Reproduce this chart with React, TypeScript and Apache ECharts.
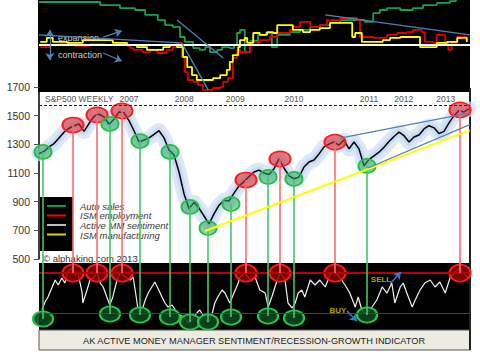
import React, { useEffect, useRef } from "react";
import * as echarts from "echarts";

const FONT = '"Liberation Sans", Arial, sans-serif';
const X_MIN = 2006.4;
const X_MAX = 2013.583;

// S&P 500 weekly, starting 2006.4
const spxStart = 2006.4;
const spxMonthly = [
  1235, 1250, 1282, 1305, 1345, 1385, 1412, 1430, 1442, 1390,
  1445, 1495, 1510, 1491, 1440, 1475, 1526, 1520, 1465, 1395,
  1316, 1330, 1345, 1370, 1395, 1345, 1260, 1225, 1107, 955,
  850, 895, 855, 800, 745, 815, 875, 910, 905, 960,
  1010, 1040, 1075, 1107, 1120, 1100, 1090, 1130, 1198, 1135,
  1080, 1060, 1072, 1142, 1177, 1191, 1233, 1282, 1302, 1316,
  1295, 1330, 1268, 1316, 1268, 1150, 1195, 1220, 1245, 1280,
  1320, 1355, 1385, 1360, 1316, 1351, 1365, 1407, 1430, 1415,
  1375, 1390, 1450, 1500, 1535, 1526, 1547,
];

// Top panel indicators [decimal year, index]
const autoSales: [number, number][] = [
  [2006.40, 68.3], [2007.42, 67.0], [2007.58, 67.0], [2007.75, 65.7], [2008.00, 64.9], [2008.17, 62.8],
  [2008.38, 60.6], [2008.50, 58.5], [2008.63, 57.7], [2008.75, 53.4], [2008.83, 51.3], [2008.97, 48.7],
  [2009.08, 47.9], [2009.17, 49.1], [2009.25, 47.0], [2009.37, 47.9], [2009.45, 49.1], [2009.58, 48.7],
  [2009.65, 50.0], [2009.70, 55.1], [2009.75, 56.4], [2009.83, 47.0], [2009.92, 51.7], [2010.05, 54.3],
  [2010.18, 55.1], [2010.28, 49.1], [2010.37, 54.3], [2010.58, 55.5], [2010.75, 56.4], [2010.92, 57.7],
  [2011.08, 58.5], [2011.25, 59.4], [2011.42, 60.6], [2011.67, 60.6], [2011.83, 59.8], [2011.97, 63.6],
  [2012.08, 64.9], [2012.20, 65.7], [2012.42, 64.9], [2012.63, 65.7], [2012.80, 67.0], [2013.03, 67.9],
  [2013.25, 68.7], [2013.35, 70.4],
];
const ismEmployment: [number, number][] = [
  [2006.42, 49.1], [2006.58, 50.0], [2006.75, 50.4], [2007.00, 49.6], [2007.25, 50.4], [2007.50, 50.0],
  [2007.72, 50.4], [2007.87, 49.6], [2007.92, 48.7], [2007.97, 47.9], [2008.13, 47.0], [2008.25, 47.9],
  [2008.37, 46.6], [2008.53, 47.9], [2008.63, 49.1], [2008.70, 50.9], [2008.78, 44.9], [2008.83, 38.5],
  [2008.88, 35.1], [2008.97, 34.3], [2009.05, 33.0], [2009.13, 30.9], [2009.30, 31.7], [2009.42, 32.1],
  [2009.47, 34.3], [2009.55, 35.9], [2009.63, 44.5], [2009.70, 47.9], [2009.75, 47.0], [2009.87, 47.0],
  [2009.92, 51.3], [2010.03, 50.9], [2010.08, 52.1], [2010.25, 53.4], [2010.37, 55.1], [2010.58, 56.4],
  [2010.63, 57.7], [2010.75, 59.8], [2010.87, 59.8], [2010.92, 57.7], [2011.08, 58.5], [2011.20, 60.6],
  [2011.42, 61.5], [2011.70, 60.6], [2011.75, 53.4], [2011.97, 53.0], [2012.13, 53.0], [2012.20, 54.3],
  [2012.37, 55.1], [2012.53, 55.5], [2012.63, 56.4], [2012.78, 55.5], [2012.83, 51.3], [2012.97, 50.9],
  [2013.03, 54.3], [2013.13, 54.3], [2013.17, 50.9], [2013.22, 47.9], [2013.28, 50.9], [2013.37, 53.4],
  [2013.47, 53.4], [2013.53, 52.1],
];
const ismManufacturing: [number, number][] = [
  [2006.42, 51.3], [2006.53, 53.0], [2006.63, 51.3], [2006.87, 50.9], [2007.13, 52.1], [2007.30, 52.1],
  [2007.53, 52.1], [2007.63, 50.9], [2007.87, 50.0], [2008.03, 49.1], [2008.20, 47.9], [2008.37, 47.9],
  [2008.47, 49.1], [2008.58, 50.0], [2008.70, 49.1], [2008.80, 44.9], [2008.87, 40.6], [2008.95, 37.2],
  [2009.03, 35.1], [2009.13, 35.1], [2009.30, 35.9], [2009.42, 37.2], [2009.53, 39.4], [2009.58, 42.8],
  [2009.63, 45.7], [2009.72, 49.1], [2009.75, 52.1], [2009.83, 53.0], [2009.87, 50.9], [2009.97, 55.1],
  [2010.08, 54.3], [2010.20, 55.5], [2010.30, 55.1], [2010.37, 58.5], [2010.58, 58.5], [2010.63, 56.4],
  [2010.80, 55.5], [2010.92, 56.4], [2011.08, 57.2], [2011.25, 59.4], [2011.58, 59.4], [2011.62, 53.4],
  [2011.67, 55.1], [2011.75, 55.1], [2011.78, 51.3], [2011.97, 51.3], [2012.13, 52.1], [2012.25, 53.0],
  [2012.42, 53.4], [2012.72, 53.4], [2012.75, 49.1], [2012.97, 49.1], [2013.03, 50.9], [2013.20, 51.3],
  [2013.37, 53.0], [2013.53, 51.3],
];
const topNeutral = 50;

// Active MM sentiment oscillator [decimal year, value]
const sentiment: [number, number][] = [
  [2006.45, 29.9], [2006.50, 41.8], [2006.55, 49.3], [2006.62, 64.2], [2006.67, 74.6], [2006.72, 67.2],
  [2006.78, 77.6], [2006.83, 70.1], [2006.88, 86.6], [2006.95, 92.5], [2007.00, 82.1], [2007.05, 85.1],
  [2007.12, 55.2], [2007.13, 40.3], [2007.20, 59.7], [2007.25, 74.6], [2007.30, 77.6], [2007.37, 85.1],
  [2007.42, 70.1], [2007.47, 64.2], [2007.53, 49.3], [2007.58, 37.3], [2007.63, 49.3], [2007.70, 74.6],
  [2007.75, 85.1], [2007.80, 82.1], [2007.87, 77.6], [2007.92, 74.6], [2007.97, 79.1], [2008.02, 49.3],
  [2008.05, 29.9], [2008.12, 29.9], [2008.17, 44.8], [2008.22, 55.2], [2008.28, 64.2], [2008.33, 71.6],
  [2008.38, 62.7], [2008.45, 49.3], [2008.50, 40.3], [2008.55, 34.3], [2008.62, 37.3], [2008.67, 29.9],
  [2008.75, 22.4], [2008.83, 17.9], [2008.88, 10.4], [2008.95, 14.9], [2009.03, 25.4], [2009.08, 29.9],
  [2009.13, 22.4], [2009.22, 10.4], [2009.28, 22.4], [2009.33, 40.3], [2009.38, 49.3], [2009.45, 59.7],
  [2009.50, 55.2], [2009.58, 40.3], [2009.67, 59.7], [2009.72, 70.1], [2009.75, 79.1], [2009.83, 85.1],
  [2009.92, 74.6], [2010.00, 79.1], [2010.08, 59.7], [2010.17, 55.2], [2010.22, 34.3], [2010.28, 49.3],
  [2010.37, 74.6], [2010.42, 85.1], [2010.50, 74.6], [2010.55, 40.3], [2010.62, 32.8], [2010.67, 40.3],
  [2010.72, 55.2], [2010.78, 59.7], [2010.83, 49.3], [2010.92, 74.6], [2011.00, 67.2], [2011.08, 74.6],
  [2011.17, 64.2], [2011.25, 82.1], [2011.33, 86.6], [2011.42, 77.6], [2011.50, 67.2], [2011.58, 55.2],
  [2011.67, 34.3], [2011.72, 49.3], [2011.78, 29.9], [2011.83, 25.4], [2011.88, 26.9], [2011.95, 34.3],
  [2012.03, 44.8], [2012.12, 64.2], [2012.20, 55.2], [2012.28, 70.1], [2012.33, 40.3], [2012.42, 64.2],
  [2012.47, 70.1], [2012.53, 55.2], [2012.62, 34.3], [2012.67, 44.8], [2012.75, 59.7], [2012.83, 70.1],
  [2012.92, 74.6], [2013.00, 64.2], [2013.08, 71.6], [2013.17, 55.2], [2013.25, 77.6], [2013.33, 86.6],
  [2013.42, 92.5], [2013.50, 82.1], [2013.55, 77.6],
];
const sellLevel = 85;
const buyLevel = 25;

// Signal events
const redDates = [2006.967, 2007.367, 2007.783, 2009.85, 2010.417, 2011.333, 2013.417];
const redSpx = [1435, 1505, 1533, 1051, 1198, 1316, 1540];
const redOsc = [85, 85, 85, 85, 85, 85, 85];
const greenDates = [2006.467, 2007.583, 2008.083, 2008.583, 2008.917, 2009.217, 2009.6, 2010.217, 2010.65, 2011.867];
const greenSpx = [1247, 1442, 1323, 1247, 863, 716, 884, 1072, 1058, 1149];
const greenOsc = [16.4, 23.9, 22.4, 19.4, 11.9, 11.9, 19.4, 20.9, 17.9, 22.4];

// Year / header labels on the S&P panel
const headerLabels = ["S&P500 WEEKLY", "2007", "2008", "2009", "2010", "2011", "2012", "2013"];
const headerDates = [2007.07, 2007.9, 2008.82, 2009.67, 2010.65, 2011.9, 2012.48, 2013.18];
const headerLevel = 1617;
const topLevelLine = 1575;

// Trend lines
const supportLine: [number, number][] = [[2009.167, 695], [2013.58, 1397]];
const wedgeUpper: [number, number][] = [[2011.417, 1344], [2013.583, 1519]];
const wedgeLower: [number, number][] = [[2011.883, 1135], [2013.58, 1438]];
const topTrends: [number, number][][] = [
  [[2006.4, 54.3], [2008.75, 50.9]],
  [[2008.70, 60.6], [2009.47, 44.5]],
  [[2008.78, 50.9], [2009.22, 30.9]],
  [[2011.17, 62.8], [2013.58, 54.3]],
];
const topArrows: [number, number][][] = [
  [[2007.47, 53.4], [2007.78, 56.0]],
  [[2007.47, 46.6], [2007.78, 43.2]],
];
const topDoubleArrow: [number, number][] = [[2006.58, 56.4], [2006.58, 43.6]];
const signalArrows: [number, number][][] = [
  [[2012.25, 68.7], [2012.43, 86.6]],
  [[2011.53, 28.4], [2011.70, 13.4]],
];
const signalTexts = [
  { name: "SELL", value: [2012.1, 76.1] },
  { name: "BUY", value: [2011.38, 28.4] },
];

const legendItems = ["Auto sales", "ISM employment", "Active MM sentiment", "ISM manufacturing"];
const legendColors = ["#12994a", "#ff0000", "#bfbfbf", "#d6d600"];

export default function App() {
  const ref = useRef<HTMLDivElement>(null);

  useEffect(() => {
    if (!ref.current) return;
    const chart = echarts.init(ref.current, undefined, { renderer: "svg" });
    const spxData = spxMonthly.map((v, i) => [spxStart + i / 12, v]);
    const pair = (a: [number, number][]) => a.map((p) => ({ coord: p }));
    const emptyLine = (gi: number, extra: any) => ({
      type: "line",
      xAxisIndex: gi,
      yAxisIndex: gi,
      data: [],
      silent: true,
      ...extra,
    });
    const ml = (data: any[], lineStyle: any, symbol: any = ["none", "none"], symbolSize: any = 6) => ({
      silent: true,
      symbol,
      symbolSize,
      label: { show: false },
      emphasis: { disabled: true },
      lineStyle: { type: "solid", ...lineStyle },
      data,
    });

    const option: any = {
      animation: false,
      backgroundColor: "#ffffff",
      grid: [
        { left: 39, right: 10, top: 0, height: 92 },
        { left: 39, right: 10, top: 87, height: 172 },
        { left: 39, right: 10, top: 259, height: 71 },
      ],
      xAxis: [0, 1, 2].map((i) => ({ type: "value", gridIndex: i, min: X_MIN, max: X_MAX, show: false })),
      yAxis: [
        { type: "value", gridIndex: 0, min: 30, max: 69.15, show: false },
        {
          type: "value",
          gridIndex: 1,
          min: 500,
          max: 1700,
          interval: 200,
          axisLine: { show: true, lineStyle: { color: "#000", width: 1.5 } },
          axisTick: { show: true, length: 5, lineStyle: { color: "#555" } },
          axisLabel: { color: "#333", fontSize: 10.5, margin: 9, fontFamily: FONT, formatter: (v: number) => String(v) },
          splitLine: { show: false },
        },
        { type: "value", gridIndex: 2, min: 0, max: 106, show: false },
      ],
      graphic: [
        { type: "rect", z: 0, shape: { x: 38, y: 0, width: 432, height: 92 }, style: { fill: "#000" } },
        { type: "rect", z: 0, shape: { x: 39, y: 263, width: 431, height: 67 }, style: { fill: "#000" } },
        { type: "rect", z: 0, shape: { x: 39, y: 330, width: 431, height: 20 }, style: { fill: "#eeece1", stroke: "#555", lineWidth: 1 } },
        { type: "rect", z: 0, shape: { x: 469, y: 88, width: 2, height: 262 }, style: { fill: "#222" } },
        {
          type: "text", z: 1, x: 254, y: 341,
          style: { text: "AK ACTIVE MONEY MANAGER SENTIMENT/RECESSION-GROWTH INDICATOR", fill: "#222", font: `9.2px ${FONT}`, textAlign: "center", textVerticalAlign: "middle" },
        },
        { type: "rect", z: 0, shape: { x: 40, y: 197, width: 33, height: 54 }, style: { fill: "#000" } },
        ...legendItems.map((_, i) => ({
          type: "line", z: 1,
          shape: { x1: 47, y1: 206 + i * 9.5, x2: 66, y2: 206 + i * 9.5 },
          style: { stroke: legendColors[i], lineWidth: 2 },
        })),
        ...legendItems.map((t, i) => ({
          type: "text", z: 1, x: 80, y: 206 + i * 9.7,
          style: { text: t, fill: "#3a3a3a", font: `italic 9.5px ${FONT}`, textAlign: "left", textVerticalAlign: "middle" },
        })),
        {
          type: "text", z: 1, x: 43, y: 258,
          style: { text: "© alphaking.com 2013", fill: "#333", font: `9.5px ${FONT}`, textAlign: "left", textVerticalAlign: "middle" },
        },
        {
          type: "text", z: 1, x: 58, y: 38,
          style: { text: "expansion", fill: "#d0d0d0", font: `9px ${FONT}`, textAlign: "left", textVerticalAlign: "middle" },
        },
        {
          type: "text", z: 1, x: 58, y: 55,
          style: { text: "contraction", fill: "#d0d0d0", font: `9px ${FONT}`, textAlign: "left", textVerticalAlign: "middle" },
        },
      ],
      series: [
        // ---- top panel
        { type: "line", xAxisIndex: 0, yAxisIndex: 0, data: autoSales, step: "end", showSymbol: false, silent: true, z: 3, lineStyle: { color: "#15a050", width: 1.8 } },
        { type: "line", xAxisIndex: 0, yAxisIndex: 0, data: ismEmployment, step: "end", showSymbol: false, silent: true, z: 3, lineStyle: { color: "#e00000", width: 1.8 } },
        { type: "line", xAxisIndex: 0, yAxisIndex: 0, data: ismManufacturing, step: "end", showSymbol: false, silent: true, z: 3, lineStyle: { color: "#ffff00", width: 1.8 } },
        emptyLine(0, { z: 4, markLine: ml([{ yAxis: topNeutral }], { color: "#ffffff", width: 2 }) }),
        emptyLine(0, { z: 5, markLine: ml(topTrends.map(pair), { color: "#4f81bd", width: 1.3 }) }),
        emptyLine(0, { z: 5, markLine: ml(topArrows.map(pair), { color: "#4f81bd", width: 1.3 }, ["none", "arrow"], 7) }),
        emptyLine(0, { z: 5, markLine: ml([pair(topDoubleArrow)], { color: "#4f81bd", width: 1.3 }, ["arrow", "arrow"], 7) }),
        // ---- middle panel
        { type: "line", xAxisIndex: 1, yAxisIndex: 1, data: spxData, showSymbol: false, silent: true, z: 1, lineStyle: { color: "rgba(205,222,244,0.7)", width: 15, cap: "round", join: "round" } },
        { type: "line", xAxisIndex: 1, yAxisIndex: 1, data: spxData, showSymbol: false, silent: true, z: 1, lineStyle: { color: "rgba(180,205,238,0.5)", width: 7, cap: "round", join: "round" } },
        emptyLine(1, { z: 2, markLine: ml(redDates.map((d, i) => [{ coord: [d, redSpx[i]] }, { coord: [d, 500] }]), { color: "#ff6b6b", width: 1.6 }) }),
        emptyLine(1, { z: 2, markLine: ml(greenDates.map((d, i) => [{ coord: [d, greenSpx[i]] }, { coord: [d, 500] }]), { color: "#46c56a", width: 1.6 }) }),
        emptyLine(1, { z: 2, markLine: ml([pair(supportLine)], { color: "#ffff00", width: 2 }) }),
        emptyLine(1, { z: 2, markLine: ml([pair(wedgeUpper), pair(wedgeLower)], { color: "#4f81bd", width: 1.3 }) }),
        {
          type: "line", xAxisIndex: 1, yAxisIndex: 1, data: spxData, showSymbol: false, silent: true, z: 3,
          lineStyle: { color: "#000", width: 1.5 },
          markLine: ml([{ yAxis: topLevelLine }], { color: "#222", width: 1.2, type: [3, 2] }),
        },
        {
          type: "scatter", xAxisIndex: 1, yAxisIndex: 1, z: 4, silent: true,
          data: redDates.map((d, i) => [d, redSpx[i]]), symbolSize: [21, 15],
          itemStyle: { color: "rgba(210,45,55,0.6)", borderColor: "#ff1a1a", borderWidth: 1.8, opacity: 1 },
        },
        {
          type: "scatter", xAxisIndex: 1, yAxisIndex: 1, z: 4, silent: true,
          data: greenDates.map((d, i) => [d, greenSpx[i]]), symbolSize: [17, 14],
          itemStyle: { color: "rgba(45,170,95,0.55)", borderColor: "#1fc046", borderWidth: 1.8, opacity: 1 },
        },
        {
          type: "scatter", xAxisIndex: 1, yAxisIndex: 1, z: 5, silent: true, symbolSize: 0,
          data: headerLabels.map((n, i) => ({ name: n, value: [headerDates[i], headerLevel] })),
          label: { show: true, position: "inside", formatter: "{b}", color: "#222", fontSize: 8.5, fontFamily: FONT },
        },
        // ---- bottom panel
        emptyLine(2, { z: 2, markLine: ml([{ yAxis: sellLevel }], { color: "#b80000", width: 2 }) }),
        emptyLine(2, { z: 2, markLine: ml([{ yAxis: buyLevel }], { color: "#e00000", width: 1.2 }) }),
        emptyLine(2, { z: 2, markLine: ml(redDates.map((d, i) => [{ coord: [d, 106] }, { coord: [d, redOsc[i]] }]), { color: "#ff6b6b", width: 1.6 }) }),
        emptyLine(2, { z: 2, markLine: ml(greenDates.map((d, i) => [{ coord: [d, 106] }, { coord: [d, greenOsc[i]] }]), { color: "#46c56a", width: 1.6 }) }),
        { type: "line", xAxisIndex: 2, yAxisIndex: 2, data: sentiment, showSymbol: false, silent: true, z: 3, lineStyle: { color: "#f2f2f2", width: 1.2 } },
        {
          type: "scatter", xAxisIndex: 2, yAxisIndex: 2, z: 4, silent: true,
          data: redDates.map((d, i) => [d, redOsc[i]]), symbolSize: [21, 17],
          itemStyle: { color: "rgba(140,0,0,0.85)", borderColor: "#ff1a1a", borderWidth: 2, opacity: 1 },
        },
        {
          type: "scatter", xAxisIndex: 2, yAxisIndex: 2, z: 4, silent: true,
          data: greenDates.map((d, i) => [d, greenOsc[i]]), symbolSize: [20, 15],
          itemStyle: { color: "rgba(10,70,32,0.9)", borderColor: "#22c84a", borderWidth: 2, opacity: 1 },
        },
        emptyLine(2, { z: 5, markLine: ml(signalArrows.map(pair), { color: "#2f7ed8", width: 1.5 }, ["none", "arrow"], 7) }),
        {
          type: "scatter", xAxisIndex: 2, yAxisIndex: 2, z: 5, silent: true, symbolSize: 0,
          data: signalTexts,
          label: { show: true, position: "inside", formatter: "{b}", color: "#d4cc00", fontSize: 8, fontWeight: "bold", fontFamily: FONT },
        },
      ],
    };
    chart.setOption(option);
    return () => chart.dispose();
  }, []);

  return <div ref={ref} style={{ position: "absolute", left: 0, top: 0, width: 480, height: 352 }} />;
}
